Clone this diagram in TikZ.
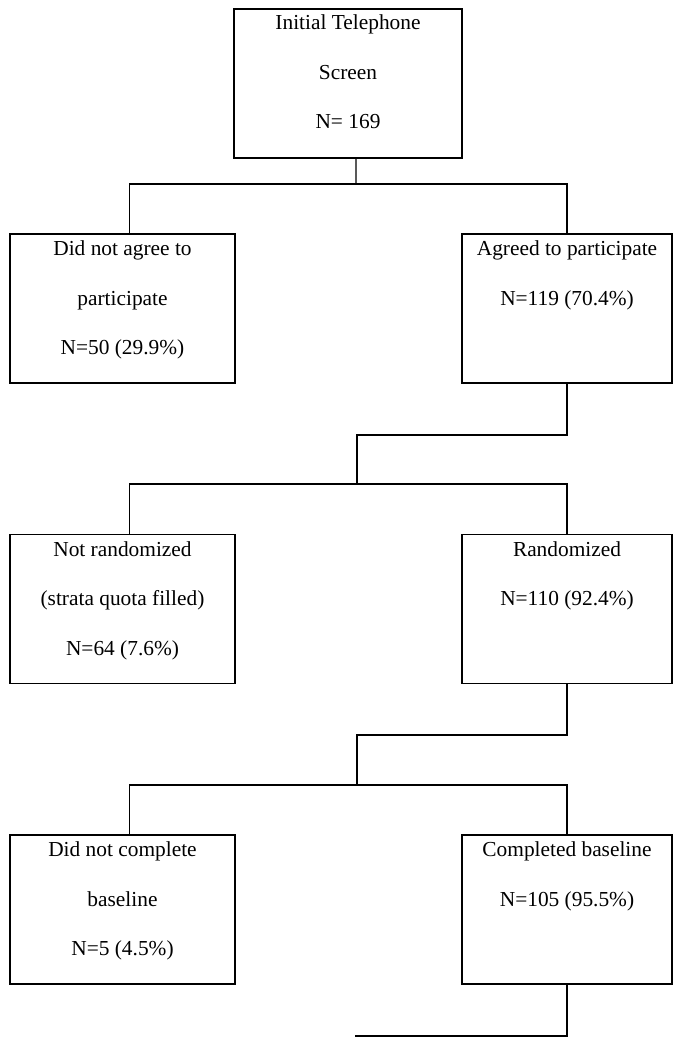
\documentclass[tikz,border=0pt]{standalone}
\usepackage{fontspec}
\setmainfont{Liberation Serif}
\begin{document}
\begin{tikzpicture}[line width=0.8pt,
    flowbox/.style={draw, inner sep=0pt, minimum height=3.725cm},
    boxtext/.style={anchor=north, inner sep=0pt, align=center, font=\fontsize{15.2}{35.2}\selectfont}]
  \useasboundingbox (0,0) rectangle (17.05,-26.125);
  % boxes
  \node [flowbox, minimum width=5.7cm]   (screen)   at (8.7,-2.0875)     {};
  \node [flowbox, minimum width=5.625cm] (noagree)  at (3.0625,-7.7125)  {};
  \node [flowbox, minimum width=5.25cm]  (agree)    at (14.175,-7.7125)  {};
  \node [flowbox, minimum width=5.625cm] (notrand)  at (3.0625,-15.225)  {};
  \node [flowbox, minimum width=5.25cm]  (rand)     at (14.175,-15.225)  {};
  \node [flowbox, minimum width=5.625cm] (nobase)   at (3.0625,-22.7375) {};
  \node [flowbox, minimum width=5.25cm]  (complete) at (14.175,-22.7375) {};
  % texts
  \node [boxtext] (screen-t)   at ([yshift=-0.15cm]screen.north)   {Initial Telephone\\Screen\\N= 169};
  \node [boxtext] (noagree-t)  at ([yshift=-0.17cm]noagree.north)  {Did not agree to\\participate\\N=50 (29.9\%)};
  \node [boxtext] (agree-t)    at ([yshift=-0.17cm]agree.north)    {Agreed to participate\\N=119 (70.4\%)};
  \node [boxtext] (notrand-t)  at ([yshift=-0.17cm]notrand.north)  {Not randomized\\(strata quota filled)\\N=64 (7.6\%)};
  \node [boxtext] (rand-t)     at ([yshift=-0.17cm]rand.north)     {Randomized\\N=110 (92.4\%)};
  \node [boxtext] (nobase-t)   at ([yshift=-0.17cm]nobase.north)   {Did not complete\\baseline\\N=5 (4.5\%)};
  \node [boxtext] (complete-t) at ([yshift=-0.17cm]complete.north) {Completed baseline\\N=105 (95.5\%)};
  % junctions
  \coordinate (split1) at (8.9,-4.6);
  \coordinate (bend2)  at (8.925,-10.875);
  \coordinate (split2) at (8.925,-12.1);
  \coordinate (bend3)  at (8.925,-18.375);
  \coordinate (split3) at (8.925,-19.625);
  \coordinate (tail)   at (8.875,-25.9);
  % connectors
  \draw ([xshift=2mm]screen.south) -- (split1);
  \draw ([xshift=1.75mm]noagree.north) |- (split1) -| (agree.north);
  \draw (agree.south) |- (bend2) -- (split2);
  \draw ([xshift=1.75mm]notrand.north) |- (split2) -| (rand.north);
  \draw (rand.south) |- (bend3) -- (split3);
  \draw ([xshift=1.75mm]nobase.north) |- (split3) -| (complete.north);
  \draw (complete.south) |- (tail);
\end{tikzpicture}
\end{document}
